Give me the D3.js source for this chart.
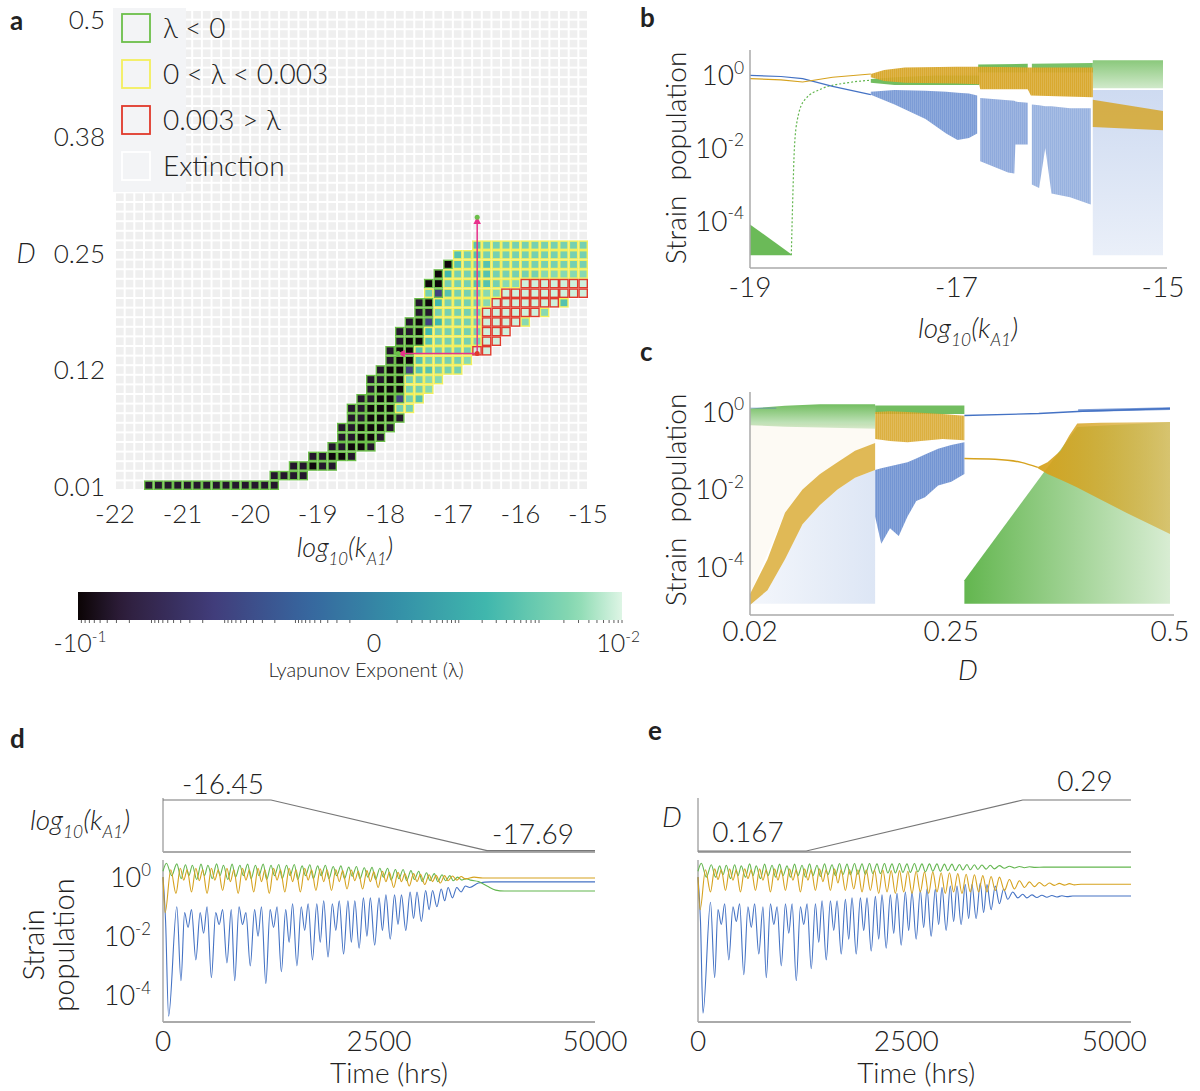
<!DOCTYPE html>
<html>
<head>
<meta charset="utf-8">
<script src="https://cdn.jsdelivr.net/npm/d3@7"></script>
<style>
body { margin: 0; background: #fff; }
svg text { font-family: Lato, "Open Sans", "Liberation Sans", sans-serif; font-weight: 300; fill: #222; }
</style>
</head>
<body>
<div id="chart"></div>
<script>
// ---------- panel a : Lyapunov grid ----------
var aXTicks = [-22, -21, -20, -19, -18, -17, -16, -15];
var aYTicks = [0.01, 0.1325, 0.255, 0.3775, 0.5];
var aYLabels = ["0.01", "0.12", "0.25", "0.38", "0.5"];
var lambdaOfCode = { k: -0.084, d: -0.036, p: -0.001, T: 0.00022, t: 0.0005, m: 0.0014, l: 0.0026, R: 0.008 };
// row index from top (D = 0.50) : [first column, cell codes]
var aRuns = {
    24: [[37, "tmmmmmmmmmmm"]],
    25: [[35, "tmtmmmmmmmmmmm"]],
    26: [[34, "ktmmtmmmmmmmmmm"]],
    27: [[33, "kTmmttmmmmmlllll"]],
    28: [[32, "kkmmmttmll"], [42, "RRRRRRR"]],
    29: [[32, "mptmmmll"], [40, "RRRRRRRRR"]],
    30: [[31, "dkTmmmml"], [39, "RRRRRRR"], [46, "t"]],
    31: [[31, "ddmmmmm"], [38, "RRRRRR"], [44, "l"]],
    32: [[30, "dkpTmmmm"], [38, "RRRR"], [42, "l"]],
    33: [[29, "ddkTmmmmm"], [38, "RRR"]],
    34: [[29, "dkktmmmmm"], [38, "RR"]],
    35: [[28, "dkktmmmmm"], [37, "RR"]],
    36: [[28, "dkktmmmml"]],
    37: [[27, "dkkpttmmm"]],
    38: [[26, "ddkkmmll"]],
    39: [[26, "dkkkmml"]],
    40: [[25, "ddkkpmt"]],
    41: [[24, "ddkkkmm"]],
    42: [[24, "ddkkkd"]],
    43: [[23, "ddkkkd"]],
    44: [[23, "ddkkd"]],
    45: [[22, "ddkkd"]],
    46: [[20, "ddkkd"]],
    47: [[18, "ddkdd"]],
    48: [[16, "dddd"]],
    49: [[3, "dddddddddddddd"]]
};
var legendLabels = ["\u03bb < 0", "0 < \u03bb < 0.003", "0.003 > \u03bb", "Extinction"];
var sweepK = [-16.64, -17.81];   // arrow for panel d
var sweepD = [0.15, 0.293];      // arrow for panel e
var cbLabels = [[-0.1, "-10", "-1"], [0, "0", ""], [0.01, "10", "-2"]];

// ---------- panel b : bifurcation over log10(kA1), values are log10 population ----------
var bXTicks = [-19, -17, -15];
var popTicks = [0, -2, -4];
var bGreenWedge = [[-19, -4.95, -4.1], [-18.6, -4.95, -4.92]];
var bGreenRise = [[-18.6, -4.95], [-18.585, -3.3], [-18.57, -2.0], [-18.54, -1.2], [-18.47, -0.67], [-18.3, -0.36], [-18.05, -0.2], [-17.83, -0.13]];
var bGreenBand = [[-17.83, -0.2, -0.1], [-17.6, -0.26, -0.05], [-17.2, -0.26, 0.0], [-16.78, -0.26, 0.0]];
var bGreenTop1 = [[-16.79, 0.08, 0.3], [-16.31, 0.08, 0.32]];
var bGreenTop2 = [[-16.27, 0.08, 0.32], [-15.68, 0.08, 0.34]];
var bGreenRight = [[-15.68, -0.35, 0.42], [-15, -0.35, 0.42]];
var bBlueLine = [[-19, 0], [-18.7, -0.03], [-18.49, -0.09], [-18.2, -0.3], [-17.83, -0.53]];
var bBlueFan1 = [[-17.83, -0.53, -0.45], [-17.6, -0.8, -0.4], [-17.3, -1.2, -0.42], [-17.1, -1.6, -0.45], [-16.99, -1.78, -0.48], [-16.88, -1.72, -0.5], [-16.8, -1.6, -0.55]];
var bBlueFan2 = [[-16.77, -2.36, -0.62], [-16.5, -2.67, -0.68], [-16.44, -2.7, -0.7], [-16.43, -1.9, -0.72], [-16.31, -1.9, -0.75]];
var bBlueFan3 = [[-16.27, -3.0, -0.8], [-16.2, -3.1, -0.82], [-16.14, -2.0, -0.85], [-16.08, -3.25, -0.85], [-15.9, -3.35, -0.9], [-15.7, -3.55, -0.9]];
var bBluePale = [[-15.68, -4.95, -0.4], [-15, -4.95, -0.4]];
var bOrangeLine = [[-19, -0.09], [-18.7, -0.12], [-18.49, -0.18], [-18.2, -0.05], [-17.83, 0.04]];
var bOrangeBand = [[-17.83, -0.05, 0.04], [-17.7, -0.15, 0.15], [-17.5, -0.2, 0.22], [-17.0, -0.22, 0.24], [-16.78, -0.24, 0.24], [-16.77, -0.38, 0.24], [-16.31, -0.38, 0.22], [-16.28, -0.55, 0.22], [-15.68, -0.6, 0.22]];
var bOrangeRight = [[-15.68, -1.42, -0.67], [-15, -1.51, -0.98]];

// ---------- panel c : bifurcation over D ----------
var cXTicks = [0.02, 0.25, 0.5];
var cBluePale = [[0.02, -4.95, -4.95], [0.04, -4.95, -4.6], [0.06, -4.95, -3.8], [0.08, -4.95, -2.9], [0.1, -4.95, -2.4], [0.12, -4.95, -2.0], [0.14, -4.95, -1.7], [0.163, -4.95, -1.5]];
var cOrangeWash = [[0.02, -4.7, -0.3], [0.06, -2.6, -0.3], [0.1, -1.6, -0.3], [0.163, -0.8, -0.3]];
var cOrangeSig = [[0.02, -4.98, -4.7], [0.04, -4.6, -3.8], [0.06, -3.8, -2.6], [0.08, -2.9, -2.0], [0.1, -2.4, -1.6], [0.12, -2.0, -1.3], [0.14, -1.7, -1.0], [0.163, -1.5, -0.8]];
var cGreenLeft = [[0.02, -0.34, 0.09], [0.06, -0.38, 0.16], [0.1, -0.4, 0.2], [0.163, -0.43, 0.2]];
var cBlueTop = [[0.02, 0.1], [0.05, 0.1]];
var cGreenMid = [[0.163, -0.05, 0.17], [0.265, -0.05, 0.17]];
var cOrangeMid = [[0.163, -0.7, 0.0], [0.18, -0.75, 0.02], [0.2, -0.78, 0.0], [0.24, -0.7, -0.05], [0.265, -0.73, -0.1]];
var cBlueMid = [[0.163, -2.7, -1.5], [0.17, -3.4, -1.45], [0.18, -3.0, -1.4], [0.19, -3.2, -1.35], [0.2, -2.7, -1.3], [0.21, -2.3, -1.2], [0.22, -2.2, -1.1], [0.235, -1.9, -0.95], [0.25, -1.8, -0.85], [0.265, -1.6, -0.78]];
var cBlueLine = [[0.265, -0.09], [0.35, -0.04], [0.4, 0.02], [0.5, 0.09]];
var cBlueThick = [[0.395, 0.0, 0.07], [0.5, 0.05, 0.12]];
var cGreenRight = [[0.265, -4.95, -4.34], [0.394, -4.95, -0.39], [0.5, -4.95, -0.26]];
var cOrangeLine = [[0.265, -1.2], [0.3, -1.22], [0.33, -1.3], [0.349, -1.43]];
var cOrangeFan = [[0.349, -1.45, -1.42], [0.36, -1.6, -1.3], [0.375, -1.75, -1.0], [0.385, -1.85, -0.6], [0.394, -1.95, -0.3], [0.42, -2.25, -0.28], [0.45, -2.6, -0.27], [0.5, -3.15, -0.26]];

// ---------- panels d, e : time series (hours, log10 population) ----------
var timeTicks = [0, 2500, 5000];
var dParam = [[0, -16.45], [1250, -16.45], [3750, -17.69], [5000, -17.69]];
var eParam = [[0, 0.167], [1300, 0.167], [3900, 0.29], [5200, 0.29]];
var dBlue = [[0, 0.0], [30, -1.5], [65, -4.7], [160, -1.0], [208, -3.5], [250, -1.2], [290, -1.7], [330, -1.1], [380, -2.8], [430, -1.2], [470, -1.9], [510, -1.0], [560, -3.4], [610, -1.2], [650, -1.6], [690, -1.1], [740, -2.9], [790, -1.1], [830, -3.5], [880, -1.0], [920, -1.6], [960, -1.2], [1010, -3.0], [1060, -1.1], [1100, -2.0], [1140, -1.0], [1190, -3.6], [1240, -1.1], [1280, -1.7], [1320, -1.0], [1370, -3.2], [1420, -1.1], [1460, -2.2], [1500, -0.9], [1550, -3.0], [1600, -1.0], [1640, -1.8], [1680, -0.9], [1730, -2.8], [1780, -0.9], [1820, -2.2], [1860, -0.8], [1910, -2.7], [1960, -0.9], [2000, -1.8], [2040, -0.8], [2090, -2.6], [2140, -0.8], [2180, -2.2], [2220, -0.8], [2270, -2.4], [2320, -0.7], [2360, -2.0], [2400, -0.7], [2450, -2.3], [2500, -0.7], [2540, -1.8], [2580, -0.6], [2630, -2.1], [2680, -0.6], [2720, -1.6], [2760, -0.6], [2810, -1.8], [2860, -0.5], [2900, -1.4], [2940, -0.5], [2990, -1.5], [3040, -0.45], [3080, -1.1], [3120, -0.45], [3170, -1.0], [3220, -0.4], [3260, -0.8], [3300, -0.35], [3350, -0.7], [3400, -0.35], [3450, -0.5], [3500, -0.3], [3550, -0.35], [3650, -0.2], [3800, -0.16], [5000, -0.16]];
var dGreen = [[0, 0.2], [40, 0.47], [100, 0.05], [160, 0.45], [210, -0.05], [260, 0.42], [300, 0.05], [340, 0.4], [390, -0.08], [440, 0.44], [480, 0.05], [520, 0.4], [570, -0.05], [620, 0.45], [660, 0.05], [700, 0.4], [750, -0.08], [800, 0.44], [840, 0.0], [890, 0.4], [930, 0.05], [980, 0.44], [1020, -0.05], [1070, 0.4], [1110, 0.05], [1160, 0.44], [1200, -0.08], [1250, 0.4], [1290, 0.05], [1340, 0.43], [1380, -0.05], [1430, 0.4], [1470, 0.05], [1520, 0.43], [1560, -0.08], [1610, 0.38], [1650, 0.05], [1700, 0.42], [1740, -0.05], [1790, 0.38], [1830, 0.05], [1880, 0.4], [1920, -0.05], [1970, 0.36], [2010, 0.05], [2060, 0.38], [2100, -0.05], [2150, 0.34], [2190, 0.03], [2240, 0.36], [2280, -0.05], [2330, 0.32], [2370, 0.0], [2420, 0.33], [2460, -0.08], [2510, 0.3], [2550, 0.0], [2600, 0.3], [2640, -0.1], [2690, 0.26], [2730, -0.05], [2780, 0.26], [2820, -0.12], [2870, 0.22], [2910, -0.08], [2960, 0.2], [3000, -0.15], [3050, 0.15], [3090, -0.12], [3140, 0.12], [3180, -0.15], [3230, 0.08], [3270, -0.12], [3320, 0.05], [3360, -0.12], [3410, 0.0], [3460, -0.1], [3510, -0.05], [3560, -0.1], [3650, -0.15], [3750, -0.3], [3850, -0.44], [3950, -0.47], [5000, -0.47]];
var dOrange = [[0, 0], [25, -1.2], [90, 0.25], [150, -0.55], [200, 0.3], [240, -0.1], [280, 0.25], [330, -0.5], [380, 0.3], [420, -0.12], [460, 0.25], [510, -0.55], [560, 0.3], [600, -0.1], [640, 0.25], [690, -0.45], [740, 0.3], [780, -0.15], [820, 0.25], [870, -0.55], [920, 0.3], [960, -0.1], [1000, 0.25], [1050, -0.5], [1100, 0.3], [1140, -0.15], [1180, 0.25], [1230, -0.55], [1280, 0.3], [1320, -0.1], [1360, 0.25], [1410, -0.5], [1460, 0.3], [1500, -0.15], [1540, 0.25], [1590, -0.5], [1640, 0.3], [1680, -0.1], [1720, 0.25], [1770, -0.45], [1820, 0.28], [1860, -0.15], [1900, 0.25], [1950, -0.45], [2000, 0.26], [2040, -0.15], [2080, 0.22], [2130, -0.4], [2180, 0.24], [2220, -0.12], [2260, 0.2], [2310, -0.4], [2360, 0.22], [2400, -0.15], [2440, 0.18], [2490, -0.35], [2540, 0.2], [2580, -0.15], [2620, 0.16], [2670, -0.35], [2720, 0.16], [2760, -0.15], [2800, 0.12], [2850, -0.3], [2900, 0.12], [2940, -0.15], [2980, 0.1], [3030, -0.25], [3080, 0.08], [3120, -0.15], [3160, 0.06], [3210, -0.2], [3260, 0.05], [3300, -0.12], [3350, 0.04], [3400, -0.1], [3450, 0.02], [3500, -0.06], [3600, 0.0], [3700, -0.03], [5000, -0.03]];
var eBlue = [[0, 0.0], [30, -1.5], [60, -4.6], [150, -0.85], [200, -3.4], [240, -1.1], [280, -1.6], [320, -0.9], [370, -2.8], [420, -1.0], [460, -1.5], [500, -0.9], [550, -3.3], [600, -1.0], [640, -1.7], [680, -0.9], [730, -2.6], [780, -1.0], [820, -3.4], [870, -0.9], [910, -1.6], [950, -1.0], [1000, -3.0], [1050, -0.9], [1090, -1.9], [1130, -0.9], [1180, -3.5], [1230, -1.0], [1270, -1.6], [1310, -0.9], [1360, -3.1], [1410, -0.9], [1450, -2.2], [1490, -0.8], [1540, -2.8], [1590, -0.8], [1630, -1.8], [1670, -0.8], [1720, -2.6], [1770, -0.75], [1810, -2.1], [1850, -0.7], [1900, -2.6], [1950, -0.7], [1990, -1.8], [2030, -0.7], [2080, -2.5], [2130, -0.65], [2170, -2.1], [2210, -0.6], [2260, -2.4], [2310, -0.6], [2350, -1.9], [2390, -0.55], [2440, -2.3], [2490, -0.5], [2530, -1.8], [2570, -0.5], [2620, -2.1], [2670, -0.45], [2710, -1.7], [2750, -0.4], [2800, -2.0], [2850, -0.4], [2890, -1.6], [2930, -0.35], [2980, -1.8], [3030, -0.3], [3070, -1.5], [3110, -0.3], [3160, -1.6], [3210, -0.25], [3250, -1.4], [3290, -0.25], [3340, -1.4], [3390, -0.2], [3430, -1.2], [3470, -0.25], [3520, -1.1], [3570, -0.3], [3620, -0.9], [3670, -0.4], [3720, -0.75], [3780, -0.5], [3840, -0.7], [3900, -0.58], [3950, -0.7], [4010, -0.6], [4070, -0.69], [4130, -0.61], [4190, -0.68], [4250, -0.62], [4310, -0.67], [4370, -0.63], [4430, -0.66], [4500, -0.64], [5200, -0.64]];
var eGreen = [[0, 0.2], [40, 0.47], [100, 0.0], [160, 0.42], [210, 0.0], [260, 0.38], [300, 0.08], [340, 0.4], [390, -0.05], [440, 0.42], [480, 0.05], [520, 0.38], [570, 0.0], [620, 0.45], [660, 0.05], [700, 0.38], [750, -0.05], [800, 0.44], [840, 0.05], [890, 0.4], [930, 0.0], [980, 0.44], [1020, 0.05], [1070, 0.38], [1110, 0.0], [1160, 0.44], [1200, 0.05], [1250, 0.4], [1290, 0.0], [1340, 0.45], [1380, 0.05], [1430, 0.4], [1470, 0.02], [1520, 0.45], [1560, 0.08], [1610, 0.42], [1650, 0.05], [1700, 0.46], [1740, 0.08], [1790, 0.44], [1830, 0.08], [1880, 0.46], [1920, 0.1], [1970, 0.45], [2010, 0.1], [2060, 0.46], [2100, 0.12], [2150, 0.45], [2190, 0.12], [2240, 0.46], [2280, 0.14], [2330, 0.45], [2370, 0.14], [2420, 0.46], [2460, 0.16], [2510, 0.45], [2550, 0.16], [2600, 0.46], [2640, 0.18], [2690, 0.45], [2730, 0.18], [2780, 0.45], [2820, 0.2], [2870, 0.45], [2910, 0.2], [2960, 0.44], [3000, 0.22], [3050, 0.44], [3090, 0.22], [3140, 0.43], [3180, 0.24], [3230, 0.43], [3270, 0.25], [3320, 0.42], [3360, 0.26], [3410, 0.41], [3460, 0.27], [3510, 0.4], [3560, 0.28], [3620, 0.39], [3680, 0.3], [3740, 0.37], [3800, 0.31], [3860, 0.36], [3920, 0.32], [3980, 0.35], [4050, 0.33], [4150, 0.34], [5200, 0.34]];
var eOrange = [[0, 0], [25, -1.1], [90, 0.25], [150, -0.5], [200, 0.28], [240, -0.08], [280, 0.25], [330, -0.45], [380, 0.28], [420, -0.1], [460, 0.25], [510, -0.5], [560, 0.28], [600, -0.05], [640, 0.25], [690, -0.45], [740, 0.28], [780, -0.1], [820, 0.25], [870, -0.5], [920, 0.28], [960, -0.1], [1000, 0.25], [1050, -0.45], [1100, 0.28], [1140, -0.1], [1180, 0.25], [1230, -0.5], [1280, 0.28], [1320, -0.1], [1360, 0.25], [1410, -0.45], [1460, 0.28], [1500, -0.15], [1540, 0.25], [1590, -0.45], [1640, 0.28], [1680, -0.2], [1720, 0.25], [1770, -0.45], [1820, 0.26], [1870, -0.4], [1920, 0.25], [1970, -0.5], [2020, 0.25], [2070, -0.45], [2120, 0.24], [2170, -0.55], [2220, 0.24], [2270, -0.5], [2320, 0.22], [2370, -0.55], [2420, 0.22], [2470, -0.5], [2520, 0.2], [2570, -0.55], [2620, 0.2], [2670, -0.5], [2720, 0.18], [2770, -0.55], [2820, 0.18], [2870, -0.5], [2920, 0.15], [2970, -0.55], [3020, 0.15], [3070, -0.5], [3120, 0.12], [3170, -0.55], [3220, 0.1], [3270, -0.5], [3320, 0.08], [3370, -0.5], [3420, 0.05], [3470, -0.5], [3520, 0.02], [3570, -0.45], [3620, 0.0], [3680, -0.45], [3740, -0.08], [3800, -0.4], [3860, -0.12], [3920, -0.35], [3980, -0.16], [4040, -0.32], [4100, -0.18], [4160, -0.3], [4220, -0.2], [4280, -0.28], [4340, -0.21], [4400, -0.27], [4460, -0.22], [4520, -0.26], [4600, -0.24], [5200, -0.24]];

var blue = "#4472c4", orange = "#d6a21e", green = "#63b64f";

function init() {
    var svg = d3.select("#chart").append("svg")
        .attr("width", 1200)
        .attr("height", 1091);
    var defs = svg.append("defs");

    // mako-like colour map
    var mako = d3.scaleLinear()
        .domain([0, 0.083, 0.25, 0.417, 0.583, 0.75, 0.917, 1])
        .range(["#0b0405", "#2e1e3b", "#413d7b", "#37659e", "#348fa7", "#40b7ad", "#8bdab2", "#def5e5"]);
    var lamPos = d3.scaleSymlog().constant(1e-5).domain([-0.1, 0, 0.01]).range([0, 0.54, 1]);

    function sup(t, base, exp, size) {
        t.text(base);
        if (exp) t.append("tspan").attr("dy", -size * 0.42).attr("font-size", size * 0.62).text(exp);
    }
    function logLabel(g, x, y, size, anchor) {
        var t = g.append("text").attr("x", x).attr("y", y)
            .attr("text-anchor", anchor || "middle")
            .attr("font-size", size).style("font-style", "italic");
        t.append("tspan").text("log");
        t.append("tspan").attr("dy", size * 0.3).attr("font-size", size * 0.62).text("10");
        t.append("tspan").attr("dy", -size * 0.3).text("(k");
        t.append("tspan").attr("dy", size * 0.3).attr("font-size", size * 0.62).text("A1");
        t.append("tspan").attr("dy", -size * 0.3).text(")");
    }
    function panelLetter(x, y, s) {
        svg.append("text").attr("x", x).attr("y", y).attr("font-size", 26)
            .style("font-weight", 700).text(s);
    }

    // fine vertical hatch to hint at the dense sweep lines of a bifurcation plot
    var hatch = defs.append("pattern").attr("id", "hatch")
        .attr("width", 2).attr("height", 6).attr("patternUnits", "userSpaceOnUse");
    hatch.append("rect").attr("x", 1).attr("width", 1).attr("height", 6).attr("fill", "#fff").attr("fill-opacity", 0.14);

    // ================= panel a =================
    var ga = svg.append("g");
    var colB = d3.scaleBand().domain(d3.range(49)).range([115, 588]);
    var rowB = d3.scaleBand().domain(d3.range(50)).range([10, 490]);
    var xk = d3.scaleLinear().domain([-22, -15]).range([115, 588]);
    var yD = d3.scaleLinear().domain([0.01, 0.5]).range([487, 20]);

    var cells = [];
    d3.range(50).forEach(function (r) {
        var s = d3.range(49).map(function () { return "."; });
        (aRuns[r] || []).forEach(function (run) {
            for (var i = 0; i < run[1].length; i++) s[run[0] + i] = run[1][i];
        });
        s.forEach(function (ch, c) { cells.push({ r: r, c: c, code: ch }); });
    });
    function cls(d) {
        var v = lambdaOfCode[d.code];
        return v < 0 ? 0 : (v < 0.003 ? 1 : 2);
    }
    var outline = ["#6cbf4a", "#f3ef5d", "#e0392b"];

    ga.selectAll("rect.ext")
        .data(cells.filter(function (d) { return d.code === "."; }))
        .enter().append("rect")
        .attr("x", function (d) { return colB(d.c) + 1; })
        .attr("y", function (d) { return rowB(d.r) + 1; })
        .attr("width", colB.bandwidth() - 2)
        .attr("height", rowB.bandwidth() - 2)
        .attr("fill", "#efefef");

    [0, 1, 2].forEach(function (k) {
        ga.selectAll("rect.c" + k)
            .data(cells.filter(function (d) { return d.code !== "." && cls(d) === k; }))
            .enter().append("rect")
            .attr("x", function (d) { return colB(d.c) + 0.7; })
            .attr("y", function (d) { return rowB(d.r) + 0.7; })
            .attr("width", colB.bandwidth() - 1.4)
            .attr("height", rowB.bandwidth() - 1.4)
            .attr("fill", function (d) { return mako(lamPos(lambdaOfCode[d.code])); })
            .attr("stroke", outline[k])
            .attr("stroke-width", 1.4);
    });

    // legend
    ga.append("rect").attr("x", 113).attr("y", 8).attr("width", 73).attr("height", 184).attr("fill", "#f3f4f6");
    var lg = ga.selectAll("g.leg").data(legendLabels).enter().append("g");
    lg.append("rect")
        .attr("x", 122).attr("y", function (d, i) { return 14 + i * 46; })
        .attr("width", 28).attr("height", 28)
        .attr("fill", "#f3f4f6")
        .attr("stroke", function (d, i) { return i < 3 ? outline[i] : "#ffffff"; })
        .attr("stroke-width", 1.8);
    lg.append("text")
        .attr("x", 163).attr("y", function (d, i) { return 38 + i * 46; })
        .attr("font-size", 28)
        .text(function (d) { return d; });

    // sweep arrows
    var pink = "#e8328c";
    defs.append("marker").attr("id", "pinkArrow")
        .attr("viewBox", "0 0 10 10").attr("refX", 9).attr("refY", 5)
        .attr("markerWidth", 5).attr("markerHeight", 5).attr("orient", "auto-start-reverse")
        .append("path").attr("d", "M0,0L10,5L0,10Z").attr("fill", pink);
    var x0 = xk(sweepK[0]), y0 = yD(sweepD[0]);
    ga.append("line").attr("x1", x0).attr("y1", y0).attr("x2", x0).attr("y2", yD(sweepD[1]))
        .attr("stroke", pink).attr("stroke-width", 1.5).attr("marker-end", "url(#pinkArrow)");
    ga.append("line").attr("x1", x0).attr("y1", y0).attr("x2", xk(sweepK[1])).attr("y2", y0)
        .attr("stroke", pink).attr("stroke-width", 1.5).attr("marker-end", "url(#pinkArrow)");
    ga.append("circle").attr("cx", x0).attr("cy", yD(sweepD[1])).attr("r", 2.5).attr("fill", "#6cbf4a");
    ga.append("circle").attr("cx", xk(sweepK[1])).attr("cy", y0).attr("r", 2.5).attr("fill", "#6cbf4a");
    ga.append("circle").attr("cx", x0).attr("cy", y0).attr("r", 2.5).attr("fill", "#e0392b");

    // axes text
    ga.selectAll("text.xt").data(aXTicks).enter().append("text")
        .attr("x", function (d) { return xk(d); }).attr("y", 523)
        .attr("text-anchor", "middle").attr("font-size", 26)
        .text(function (d) { return d; });
    ga.selectAll("text.yt").data(aYTicks).enter().append("text")
        .attr("x", 105).attr("y", function (d) { return yD(d) + 9; })
        .attr("text-anchor", "end").attr("font-size", 26)
        .text(function (d, i) { return aYLabels[i]; });
    ga.append("text").attr("x", 26).attr("y", 263).attr("text-anchor", "middle")
        .attr("font-size", 27).style("font-style", "italic").text("D");
    logLabel(ga, 345, 557, 27);
    panelLetter(10, 30, "a");

    // colour bar
    var cbX = d3.scaleSymlog().constant(1e-5).domain([-0.1, 0, 0.01]).range([78, 372, 622]);
    var grad = defs.append("linearGradient").attr("id", "makoGrad");
    grad.selectAll("stop").data(d3.range(0, 1.0001, 0.025)).enter().append("stop")
        .attr("offset", function (d) { return d; })
        .attr("stop-color", function (d) { return mako(d); });
    ga.append("rect").attr("x", 78).attr("y", 592).attr("width", 544).attr("height", 28).attr("fill", "url(#makoGrad)");
    var minor = [];
    [-2, -3, -4, -5].forEach(function (n) {
        d3.range(1, 10).forEach(function (k) {
            minor.push(-k * Math.pow(10, n));
            if (n <= -3 || k === 1) minor.push(k * Math.pow(10, n));
        });
    });
    ga.selectAll("line.mt").data(minor).enter().append("line")
        .attr("x1", function (d) { return cbX(d); }).attr("x2", function (d) { return cbX(d); })
        .attr("y1", 620).attr("y2", 623).attr("stroke", "#333").attr("stroke-width", 0.8);
    ga.selectAll("text.cb").data(cbLabels).enter().append("text")
        .attr("x", function (d) { return cbX(d[0]) + (d[0] > 0 ? -4 : 2); }).attr("y", 652)
        .attr("text-anchor", "middle").attr("font-size", 25)
        .each(function (d) { sup(d3.select(this), d[1], d[2], 25); });
    ga.append("text").attr("x", 366).attr("y", 677).attr("text-anchor", "middle")
        .attr("font-size", 20).text("Lyapunov Exponent (\u03bb)");

    // ================= shared helpers for b, c =================
    function band(g, xs, ys, pts, fill, op) {
        var area = d3.area()
            .x(function (d) { return xs(d[0]); })
            .y0(function (d) { return ys(Math.pow(10, d[1])); })
            .y1(function (d) { return ys(Math.pow(10, d[2])); });
        return g.append("path").datum(pts).attr("d", area).attr("fill", fill).attr("fill-opacity", op);
    }
    function hatched(g, xs, ys, pts, fill, op) {
        band(g, xs, ys, pts, fill, op);
        band(g, xs, ys, pts, "url(#hatch)", 1);
    }
    function line(g, xs, ys, pts, stroke, w, curve) {
        var ln = d3.line()
            .x(function (d) { return xs(d[0]); })
            .y(function (d) { return ys(Math.pow(10, d[1])); })
            .curve(curve || d3.curveLinear);
        return g.append("path").datum(pts).attr("d", ln).attr("fill", "none")
            .attr("stroke", stroke).attr("stroke-width", w);
    }
    function hGrad(id, color, o1, o2) {
        var gr = defs.append("linearGradient").attr("id", id);
        gr.append("stop").attr("offset", 0).attr("stop-color", color).attr("stop-opacity", o1);
        gr.append("stop").attr("offset", 1).attr("stop-color", color).attr("stop-opacity", o2);
    }
    function vGrad(id, color, o1, o2) {
        var gr = defs.append("linearGradient").attr("id", id).attr("x1", 0).attr("x2", 0).attr("y1", 0).attr("y2", 1);
        gr.append("stop").attr("offset", 0).attr("stop-color", color).attr("stop-opacity", o1);
        gr.append("stop").attr("offset", 1).attr("stop-color", color).attr("stop-opacity", o2);
    }
    function popAxes(g, xs, ys, yLabelX) {
        var xr = xs.range(), yr = ys.range();
        g.append("line").attr("x1", xr[0]).attr("x2", xr[0]).attr("y1", yr[0]).attr("y2", yr[1])
            .attr("stroke", "#aaa").attr("stroke-width", 1.5);
        g.append("line").attr("x1", xr[0]).attr("x2", xr[xr.length - 1] + 4).attr("y1", yr[0]).attr("y2", yr[0])
            .attr("stroke", "#aaa").attr("stroke-width", 1.5);
        g.selectAll("text.yt").data(popTicks).enter().append("text")
            .attr("x", yLabelX).attr("y", function (d) { return ys(Math.pow(10, d)) + 10; })
            .attr("text-anchor", "end").attr("font-size", 28)
            .each(function (d) { sup(d3.select(this), "10", String(d), 28); });
    }

    // ================= panel b =================
    var gb = svg.append("g");
    var xb = d3.scaleLinear().domain([-19, -15]).range([750, 1163]);
    var yb = d3.scaleLog().domain([Math.pow(10, -5.3), Math.pow(10, 0.7)]).range([268, 50]);
    vGrad("paleBlueV", "#b9cbeb", 0.7, 0.3);
    vGrad("greenV", green, 0.75, 0.3);
    band(gb, xb, yb, bBluePale, "url(#paleBlueV)", 1);
    band(gb, xb, yb, bGreenRight, "url(#greenV)", 1);
    band(gb, xb, yb, bGreenWedge, green, 0.95);
    line(gb, xb, yb, bGreenRise, green, 1.2, d3.curveMonotoneX).attr("stroke-dasharray", "2,2");
    band(gb, xb, yb, bGreenBand, green, 0.9);
    hatched(gb, xb, yb, bBlueFan1, blue, 0.7);
    hatched(gb, xb, yb, bBlueFan2, blue, 0.6);
    hatched(gb, xb, yb, bBlueFan3, blue, 0.55);
    band(gb, xb, yb, bGreenTop1, green, 0.9);
    band(gb, xb, yb, bGreenTop2, green, 0.85);
    hatched(gb, xb, yb, bOrangeBand, orange, 0.92);
    band(gb, xb, yb, bOrangeRight, orange, 0.8);
    line(gb, xb, yb, bBlueLine, blue, 1.2);
    line(gb, xb, yb, bOrangeLine, orange, 1.2);
    popAxes(gb, xb, yb, 744);
    gb.selectAll("text.xt").data(bXTicks).enter().append("text")
        .attr("x", function (d) { return xb(d); }).attr("y", 297)
        .attr("text-anchor", "middle").attr("font-size", 28).text(function (d) { return d; });
    gb.append("text").attr("transform", "translate(686,158) rotate(-90)")
        .attr("text-anchor", "middle").attr("font-size", 28).style("white-space", "pre")
        .text("Strain  population");
    logLabel(gb, 968, 338, 28);
    panelLetter(640, 27, "b");

    // ================= panel c =================
    var gc = svg.append("g");
    var xc = d3.scaleLinear().domain([0.02, 0.5]).range([750, 1170]);
    var yc = d3.scaleLog().domain([Math.pow(10, -5.24), Math.pow(10, 0.516)]).range([615, 392]);
    hGrad("paleBlueH", "#c6d5ee", 0.2, 0.6);
    hGrad("greenFade", green, 1, 0.25);
    hGrad("orangeFade", orange, 0.95, 0.55);
    vGrad("greenTopV", green, 0.9, 0.25);
    band(gc, xc, yc, cBluePale, "url(#paleBlueH)", 1);
    band(gc, xc, yc, cOrangeWash, orange, 0.05);
    band(gc, xc, yc, cGreenLeft, "url(#greenTopV)", 1);
    band(gc, xc, yc, cOrangeSig, orange, 0.75);
    line(gc, xc, yc, cBlueTop, blue, 1.0).attr("stroke-opacity", 0.5);
    band(gc, xc, yc, cGreenRight, "url(#greenFade)", 1);
    band(gc, xc, yc, cOrangeFan, "url(#orangeFade)", 1);
    band(gc, xc, yc, cGreenMid, green, 0.9);
    hatched(gc, xc, yc, cOrangeMid, orange, 0.85);
    hatched(gc, xc, yc, cBlueMid, blue, 0.75);
    band(gc, xc, yc, cBlueThick, blue, 0.7);
    line(gc, xc, yc, cBlueLine, blue, 1.4);
    line(gc, xc, yc, cOrangeLine, orange, 1.4, d3.curveMonotoneX);
    popAxes(gc, xc, yc, 744);
    gc.selectAll("text.xt").data(cXTicks).enter().append("text")
        .attr("x", function (d) { return xc(d); }).attr("y", 641)
        .attr("text-anchor", "middle").attr("font-size", 28).text(function (d) { return d; });
    gc.append("text").attr("transform", "translate(686,500) rotate(-90)")
        .attr("text-anchor", "middle").attr("font-size", 28).style("white-space", "pre")
        .text("Strain  population");
    gc.append("text").attr("x", 968).attr("y", 680).attr("text-anchor", "middle")
        .attr("font-size", 28).style("font-style", "italic").text("D");
    panelLetter(640, 361, "c");

    // ================= panels d, e =================
    function timePanel(x0, x1, tMax, param, pDomain, series, showY) {
        var g = svg.append("g");
        var xt = d3.scaleLinear().domain([0, tMax]).range([x0, x1]);
        var yp = d3.scaleLinear().domain(pDomain).range([851, 800]);
        var ys = d3.scaleLog().domain([Math.pow(10, -4.9), Math.pow(10, 0.58)]).range([1022, 860]);
        // parameter strip
        g.append("line").attr("x1", x0).attr("x2", x0).attr("y1", 798).attr("y2", 852).attr("stroke", "#aaa").attr("stroke-width", 1.5);
        g.append("line").attr("x1", x0).attr("x2", x1).attr("y1", 852).attr("y2", 852).attr("stroke", "#aaa").attr("stroke-width", 2);
        g.append("path").datum(param)
            .attr("d", d3.line().x(function (d) { return xt(d[0]); }).y(function (d) { return yp(d[1]); }))
            .attr("fill", "none").attr("stroke", "#777").attr("stroke-width", 1.1);
        // population
        g.append("line").attr("x1", x0).attr("x2", x0).attr("y1", 860).attr("y2", 1022).attr("stroke", "#aaa").attr("stroke-width", 1.5);
        g.append("line").attr("x1", x0).attr("x2", x1).attr("y1", 1022).attr("y2", 1022).attr("stroke", "#aaa").attr("stroke-width", 2);
        var ln = d3.line()
            .x(function (d) { return xt(d[0]); })
            .y(function (d) { return ys(Math.pow(10, d[1])); })
            .curve(d3.curveMonotoneX);
        series.forEach(function (s) {
            g.append("path").datum(s[0]).attr("d", ln).attr("fill", "none")
                .attr("stroke", s[1]).attr("stroke-width", 1.1);
        });
        if (showY) {
            g.selectAll("text.yt").data(popTicks).enter().append("text")
                .attr("x", x0 - 12).attr("y", function (d) { return ys(Math.pow(10, d)) + 10; })
                .attr("text-anchor", "end").attr("font-size", 27)
                .each(function (d) { sup(d3.select(this), "10", String(d), 27); });
        }
        g.selectAll("text.xt").data(timeTicks).enter().append("text")
            .attr("x", function (d) { return xt(d); }).attr("y", 1051)
            .attr("text-anchor", "middle").attr("font-size", 28).text(function (d) { return d; });
        g.append("text").attr("x", xt(2500) + 10).attr("y", 1083).attr("text-anchor", "middle")
            .attr("font-size", 28).text("Time (hrs)");
        return { g: g, xt: xt, yp: yp };
    }

    var pd = timePanel(163, 595, 5000, dParam, [-17.7, -16.45], [[dBlue, blue], [dGreen, green], [dOrange, orange]], true);
    pd.g.append("text").attr("x", 223).attr("y", 794).attr("text-anchor", "middle").attr("font-size", 28).text("-16.45");
    pd.g.append("text").attr("x", 533).attr("y", 844).attr("text-anchor", "middle").attr("font-size", 28).text("-17.69");
    logLabel(pd.g, 80, 830, 28);
    pd.g.append("text").attr("transform", "translate(44,945) rotate(-90)")
        .attr("text-anchor", "middle").attr("font-size", 29).text("Strain");
    pd.g.append("text").attr("transform", "translate(74,945) rotate(-90)")
        .attr("text-anchor", "middle").attr("font-size", 29).text("population");
    panelLetter(10, 748, "d");

    var pe = timePanel(698, 1131, 5200, eParam, [0.167, 0.29], [[eBlue, blue], [eGreen, green], [eOrange, orange]], false);
    pe.g.append("text").attr("x", 748).attr("y", 842).attr("text-anchor", "middle").attr("font-size", 28).text("0.167");
    pe.g.append("text").attr("x", 1085).attr("y", 791).attr("text-anchor", "middle").attr("font-size", 28).text("0.29");
    pe.g.append("text").attr("x", 672).attr("y", 827).attr("text-anchor", "middle")
        .attr("font-size", 28).style("font-style", "italic").text("D");
    panelLetter(648, 740, "e");
}

window.onload = init;
</script>
</body>
</html>
